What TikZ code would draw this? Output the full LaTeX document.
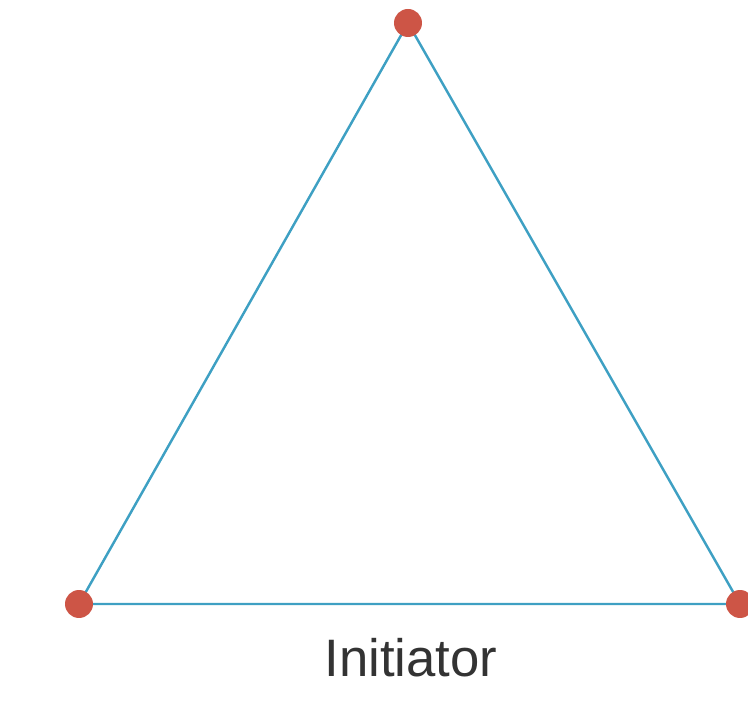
\documentclass[tikz,border=0pt]{standalone}
\usepackage{fontspec}
\setmainfont{Liberation Sans}
\usepackage{tikz}
\usetikzlibrary{positioning}
\definecolor{edgeblue}{RGB}{62,160,195}
\definecolor{dotred}{RGB}{205,85,70}

\begin{document}
\begin{tikzpicture}[
    x=0.02cm, y=0.02cm,
    vertex/.style={circle, fill=dotred, minimum size=0.56cm, inner sep=0pt},
    edge/.style={edgeblue, line width=1.4pt},
    caption/.style={font=\fontsize{30}{34}\selectfont, text=black!80, anchor=base}
]
\useasboundingbox (0,0) rectangle (748,707);

% Vertices
\coordinate (top) at (408,684);
\coordinate (left) at (79,103);
\coordinate (right) at (740,103);

% Sides
\draw[edge] (top) -- (left) -- (right) -- cycle;

% Dots
\node[vertex] (vtop) at (top) {};
\node[vertex] (vleft) at (left) {};
\node[vertex] (vright) at (right) {};

% Label
\node[caption] (label) at (411,30) {Initiator};

\end{tikzpicture}
\end{document}
